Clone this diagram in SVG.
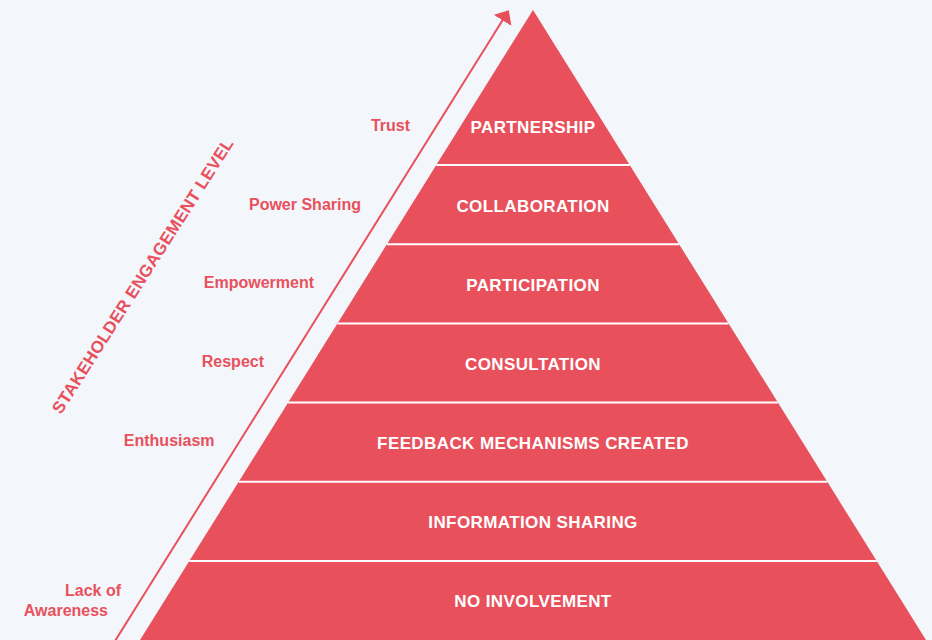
<svg xmlns="http://www.w3.org/2000/svg" width="932" height="640" viewBox="0 0 932 640">
  <defs>
    <style>
      .bg { fill: #f3f6fb; }
      .pyr { fill: #e8515c; }
      .sep { stroke: #ffffff; stroke-width: 2; }
      .lvl { font-family: "Liberation Sans", Arial, sans-serif; font-weight: bold; font-size: 17px; fill: #ffffff; text-anchor: middle; letter-spacing: 0.4px; }
      .side { font-family: "Liberation Sans", Arial, sans-serif; font-weight: bold; font-size: 16px; fill: #e8515c; text-anchor: end; }
      .axis { font-family: "Liberation Sans", Arial, sans-serif; font-weight: bold; font-size: 17px; fill: #e8515c; letter-spacing: 0.3px; }
      .arrow { stroke: #e8515c; stroke-width: 2; fill: none; }
    </style>
    <marker id="head" viewBox="0 -10.5 12 21" markerWidth="12" markerHeight="21" refX="1" refY="0" orient="auto" markerUnits="userSpaceOnUse">
      <path d="M0,-10.5 L12,0 L0,10.5 z" fill="#e8515c"/>
    </marker>
  </defs>

  <rect class="bg" x="0" y="0" width="932" height="640"/>

  <g id="pyramid">
    <polygon class="pyr" points="533,10 926,640 140,640"/>
  </g>

  <g id="separators">
    <line class="sep" x1="436.3" y1="165" x2="629.7" y2="165"/>
    <line class="sep" x1="386.9" y1="244.2" x2="679.1" y2="244.2"/>
    <line class="sep" x1="337.5" y1="323.4" x2="728.5" y2="323.4"/>
    <line class="sep" x1="288.1" y1="402.6" x2="777.9" y2="402.6"/>
    <line class="sep" x1="238.7" y1="481.8" x2="827.3" y2="481.8"/>
    <line class="sep" x1="189.2" y1="561" x2="876.8" y2="561"/>
  </g>

  <g id="level-partnership"><text class="lvl" x="533" y="132.5">PARTNERSHIP</text></g>
  <g id="level-collaboration"><text class="lvl" x="533" y="211.5">COLLABORATION</text></g>
  <g id="level-participation"><text class="lvl" x="533" y="290.5">PARTICIPATION</text></g>
  <g id="level-consultation"><text class="lvl" x="533" y="369.5">CONSULTATION</text></g>
  <g id="level-feedback"><text class="lvl" x="533" y="448.5">FEEDBACK MECHANISMS CREATED</text></g>
  <g id="level-information"><text class="lvl" x="533" y="527.5">INFORMATION SHARING</text></g>
  <g id="level-none"><text class="lvl" x="533" y="606.5">NO INVOLVEMENT</text></g>

  <g id="connectors">
    <line class="arrow" x1="115" y1="641" x2="503" y2="19.5" marker-end="url(#head)"/>
  </g>

  <g id="axis-label">
    <text class="axis" transform="translate(61,415) rotate(-57.5)" x="0" y="0">STAKEHOLDER ENGAGEMENT LEVEL</text>
  </g>

  <g id="label-trust"><text class="side" x="410" y="131">Trust</text></g>
  <g id="label-power"><text class="side" x="361" y="209.5">Power Sharing</text></g>
  <g id="label-empowerment"><text class="side" x="314" y="288">Empowerment</text></g>
  <g id="label-respect"><text class="side" x="264" y="366.5">Respect</text></g>
  <g id="label-enthusiasm"><text class="side" x="214.5" y="445.5">Enthusiasm</text></g>
  <g id="label-lack"><text class="side"><tspan x="121" y="596">Lack of</tspan><tspan x="108" y="615.5">Awareness</tspan></text></g>
</svg>
